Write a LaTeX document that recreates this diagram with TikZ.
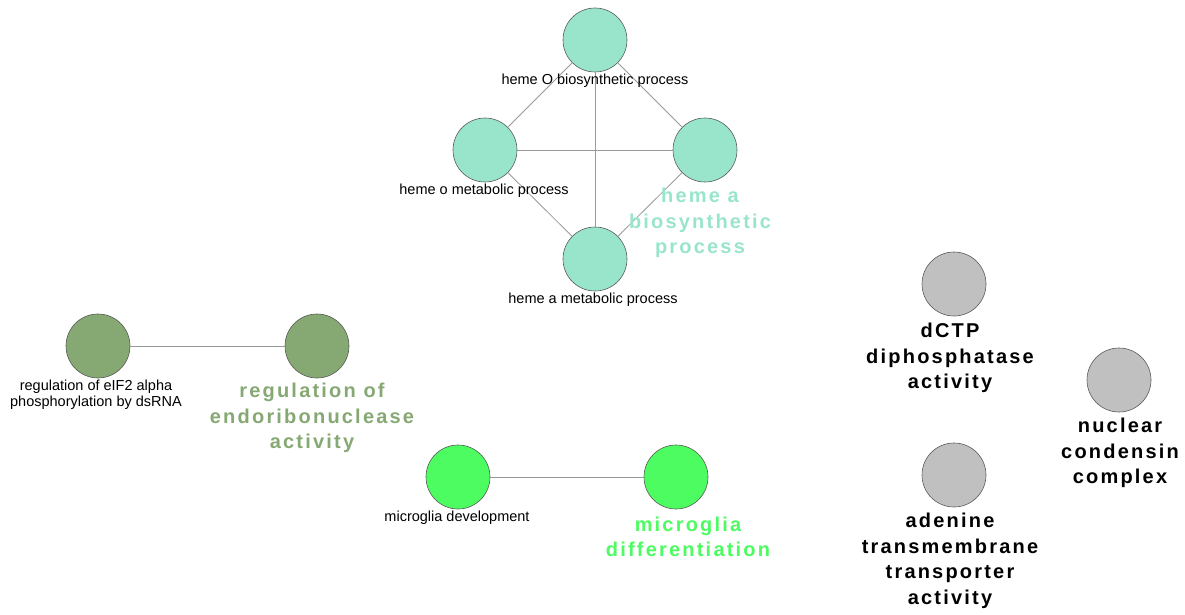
\documentclass[tikz,border=0pt]{standalone}
\usepackage{fontspec}
\setmainfont{Liberation Sans}
\definecolor{hemecol}{RGB}{152,229,204}
\definecolor{olivecol}{RGB}{134,168,115}
\definecolor{limecol}{RGB}{76,252,96}
\definecolor{greycol}{RGB}{192,192,192}
\tikzset{
	term/.style={circle, draw=black!65, line width=0.6pt, minimum size=64pt, inner sep=0pt},
	link/.style={draw=black!40, line width=0.8pt},
	small/.style={font=\fontsize{14.5}{16}\selectfont, text=black, align=center, inner sep=0pt},
	big/.style={font=\fontsize{20}{25.5}\selectfont\bfseries\addfontfeature{LetterSpace=11}, align=center, inner sep=0pt}
}
\begin{document}
\begin{tikzpicture}[x=1pt, y=-1pt]
	\useasboundingbox (0, 0) rectangle (1185, 615);

	% heme cluster
	\node[term, fill=hemecol] (hemeO) at (595, 40) {};
	\node[term, fill=hemecol] (hemeo) at (485, 150) {};
	\node[term, fill=hemecol] (hemeA) at (705, 150) {};
	\node[term, fill=hemecol] (hemea) at (595, 259) {};

	\foreach \a/\b in {hemeO/hemeo, hemeO/hemeA, hemeO/hemea, hemeo/hemeA, hemeo/hemea, hemeA/hemea}
		\draw[link] (\a) -- (\b);

	\node[small] (hemeOtext) at (595, 81) {heme O biosynthetic process};
	\node[small] (hemeotext) at (484, 191) {heme o metabolic process};
	\node[small] (hemeatext) at (593, 300) {heme a metabolic process};
	\node[big, text=hemecol] (hemeAtext) at (700, 223) {heme a\\biosynthetic\\process};

	% endoribonuclease pair
	\node[term, fill=olivecol] (eif) at (98, 346) {};
	\node[term, fill=olivecol] (endo) at (317, 346) {};
	\draw[link] (eif) -- (endo);
	\node[small] (eiftext) at (96, 395) {regulation of eIF2 alpha\\phosphorylation by dsRNA};
	\node[big, text=olivecol] (endotext) at (312, 418) {regulation of\\endoribonuclease\\activity};

	% microglia pair
	\node[term, fill=limecol] (mdev) at (458, 477) {};
	\node[term, fill=limecol] (mdiff) at (676, 477) {};
	\draw[link] (mdev) -- (mdiff);
	\node[small] (mdevtext) at (457, 518) {microglia development};
	\node[big, text=limecol] (mdifftext) at (688, 537) {microglia\\differentiation};

	% single terms
	\node[term, fill=greycol] (dctp) at (954, 284) {};
	\node[term, fill=greycol] (ncc) at (1119, 380) {};
	\node[term, fill=greycol] (adenine) at (954, 475) {};
	\node[big] (dctptext) at (950, 358) {dCTP\\diphosphatase\\activity};
	\node[big] (ncctext) at (1120, 453) {nuclear\\condensin\\complex};
	\node[big] (adeninetext) at (950, 561) {adenine\\transmembrane\\transporter\\activity};
\end{tikzpicture}
\end{document}
